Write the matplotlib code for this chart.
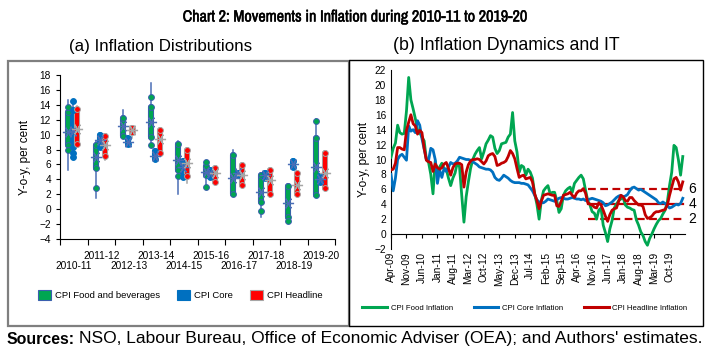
import matplotlib.pyplot as plt
import matplotlib.patheffects as pe
from matplotlib.patches import Rectangle, Patch
from matplotlib.lines import Line2D
from matplotlib import font_manager
import numpy as np

plt.rcParams['font.family'] = ['Liberation Sans', 'DejaVu Sans']
names = sorted({f.name for f in font_manager.fontManager.ttflist})
cond = [n for n in names if 'Narrow' in n or 'Condensed' in n]
NARROW = cond[:1] + ['Liberation Sans', 'DejaVu Sans']
PLAIN = ['Liberation Sans', 'DejaVu Sans']

# ---------------- panel (a): distributions by fiscal year ----------------
years = ['2010-11', '2011-12', '2012-13', '2013-14', '2014-15',
         '2015-16', '2016-17', '2017-18', '2018-19', '2019-20']

food_lo = [5.3, 1.5, 9.5, 8.6, 2.0, 2.9, 1.9, -1.1, -1.7, 1.7]
food_hi = [14.6, 9.1, 13.3, 16.9, 9.1, 6.5, 8.0, 4.8, 3.3, 12.1]
food_q1 = [8.6, 5.5, 9.8, 9.7, 5.3, 4.6, 2.1, 1.0, -1.0, 1.9]
food_q3 = [13.1, 8.6, 12.2, 13.7, 8.8, 5.8, 7.3, 4.6, 3.1, 9.5]
food_out = [[13.7, 7.9], [2.9], [], [15.0, 8.6], [4.4], [6.3, 2.95], [], [-0.2], [-1.6], [11.8]]
food_mean = [10.4, 7.0, 11.1, 11.7, 6.6, 5.0, 4.2, 2.3, 0.8, 5.7]

core_lo = [7.0, 8.3, 8.6, 6.6, 4.2, 4.2, 4.6, 4.1, 5.6, 3.5]
core_hi = [14.6, 10.1, 9.6, 7.9, 6.6, 5.3, 5.0, 5.0, 6.5, 4.6]
core_q1 = [8.3, 8.4, 8.7, 6.7, 4.3, 4.3, 4.6, 4.2, 5.7, 3.6]
core_q3 = [13.3, 10.0, 9.5, 7.8, 6.5, 5.2, 4.9, 4.9, 6.4, 4.5]
core_out = [[14.5, 7.6, 7.05], [], [], [], [], [], [], [], [], []]
core_mean = [10.5, 9.3, 9.0, 7.2, 5.6, 4.8, 4.8, 4.6, 6.0, 4.0]

head_lo = [8.5, 6.6, 9.5, 7.2, 3.5, 3.6, 3.2, 1.6, 1.9, 2.7]
head_hi = [13.8, 10.1, 11.0, 10.9, 8.2, 5.6, 6.1, 5.4, 5.0, 7.7]
head_q1 = [8.8, 7.1, 10.3, 7.6, 4.4, 3.7, 3.3, 2.1, 2.1, 2.8]
head_q3 = [13.5, 9.8, 10.85, 10.6, 7.9, 5.5, 5.9, 5.3, 4.8, 7.5]
head_out = [[], [], [], [], [], [], [], [], [], []]
head_mean = [10.8, 8.6, 10.6, 9.4, 6.2, 4.8, 4.6, 3.9, 3.3, 4.8]

# ---------------- panel (b): monthly y-o-y, Apr-09 to Apr-20 ----------------
tick_labels = ['Apr-09', 'Nov-09', 'Jun-10', 'Jan-11', 'Aug-11', 'Mar-12', 'Oct-12',
               'May-13', 'Dec-13', 'Jul-14', 'Feb-15', 'Sep-15', 'Apr-16', 'Nov-16',
               'Jun-17', 'Jan-18', 'Aug-18', 'Mar-19', 'Oct-19']

food_infl = [
    10.3, 11.5, 12.2, 14.6, 13.6, 13.4, 13.5, 16.5, 21.0, 18.0, 16.8, 15.5,
    14.0, 13.6, 13.0, 12.5, 10.0, 9.6, 8.0, 5.4, 9.8, 8.2, 9.0, 9.5,
    8.8, 8.7, 7.5, 6.5, 7.5, 8.2, 9.6, 9.0, 5.2, 1.6, 5.0, 7.0,
    8.8, 10.0, 10.7, 11.2, 11.6, 10.1, 11.0, 12.1, 12.6, 13.2, 13.0, 11.5,
    10.8, 11.2, 12.1, 12.2, 12.3, 13.0, 13.4, 16.3, 12.5, 11.0, 8.3, 9.2,
    9.0, 7.9, 8.7, 8.3, 7.5, 5.4, 4.0, 2.0, 4.5, 5.8, 6.2, 6.5,
    5.4, 5.6, 5.6, 4.5, 2.9, 3.4, 5.2, 5.8, 6.1, 6.3, 5.6, 6.8,
    7.2, 7.6, 7.9, 7.4, 5.9, 4.5, 3.9, 3.0, 2.8, 2.0, 3.2, 3.5,
    1.2, 0.2, -1.0, 0.7, 1.8, 3.5, 4.0, 4.5, 4.7, 4.9, 3.9, 3.6,
    3.5, 3.3, 3.2, 1.9, 1.2, 0.3, -0.2, -1.0, -1.5, -0.6, 0.0, 0.7,
    1.3, 1.8, 2.1, 2.7, 3.2, 4.3, 6.5, 8.3, 11.9, 11.6, 10.0, 7.9, 10.4]

core_infl = [
    8.0, 5.8, 7.5, 10.0, 10.5, 10.7, 10.3, 9.9, 14.5, 13.8, 14.0, 13.6,
    15.2, 14.6, 12.8, 11.4, 10.0, 9.9, 11.5, 11.3, 10.0, 6.8, 8.6, 7.6,
    8.8, 8.4, 9.0, 9.6, 9.4, 9.5, 9.8, 10.3, 10.2, 10.1, 10.0, 10.0,
    9.9, 9.7, 9.5, 9.3, 9.0, 8.9, 8.8, 8.7, 8.7, 8.6, 8.3, 7.6,
    7.3, 7.2, 7.5, 7.9, 7.7, 7.5, 7.2, 7.0, 6.9, 6.9, 6.9, 6.8,
    6.8, 6.7, 6.6, 6.2, 5.8, 5.2, 4.6, 4.3, 4.2, 4.2, 4.4, 4.7,
    4.6, 4.5, 4.4, 4.6, 4.8, 4.9, 4.8, 4.7, 4.7, 4.8, 4.9, 4.8,
    4.7, 4.7, 4.6, 4.7, 4.5, 4.6, 4.7, 4.8, 4.7, 4.6, 4.5, 4.4,
    4.2, 3.8, 3.9, 4.1, 4.3, 4.6, 4.9, 5.1, 5.2, 5.0, 5.1, 5.3,
    5.8, 6.2, 6.3, 6.1, 5.9, 6.0, 5.8, 5.6, 5.4, 5.2, 5.0, 4.8,
    4.6, 4.2, 4.1, 4.3, 4.1, 3.8, 3.5, 3.6, 3.8, 4.0, 3.9, 4.1, 4.8]

head_infl = [
    8.6, 8.7, 9.5, 11.6, 11.6, 11.4, 11.3, 13.9, 15.0, 16.0, 14.8, 14.5,
    13.4, 13.9, 13.6, 11.5, 9.9, 9.7, 9.6, 8.4, 9.4, 8.9, 8.7, 8.9,
    9.4, 9.6, 8.8, 7.9, 8.9, 9.4, 9.5, 9.5, 9.3, 6.3, 8.3, 9.3,
    9.8, 10.0, 10.0, 10.1, 10.0, 9.7, 9.4, 9.8, 10.5, 10.7, 10.8, 10.4,
    9.2, 9.3, 9.5, 9.6, 9.8, 10.4, 11.2, 10.8, 10.1, 8.8, 7.6, 7.8,
    7.9, 7.4, 7.5, 7.6, 7.0, 5.4, 4.5, 3.4, 4.4, 5.2, 5.3, 5.4,
    5.3, 5.2, 5.2, 3.8, 3.7, 4.4, 5.2, 5.3, 5.4, 5.6, 5.2, 4.9,
    5.5, 5.8, 5.8, 6.1, 5.5, 4.2, 4.0, 3.9, 3.6, 3.5, 4.2, 3.9,
    3.2, 2.4, 1.7, 2.6, 3.2, 3.4, 3.5, 4.4, 5.2, 5.0, 4.5, 4.4,
    4.9, 4.9, 4.5, 4.2, 3.9, 3.9, 3.7, 2.6, 2.1, 2.2, 2.4, 2.8,
    3.0, 3.0, 3.1, 3.2, 3.3, 3.9, 5.2, 6.3, 7.4, 7.6, 7.0, 5.9, 7.0]

target = 4
band = [2, 6]
target_from = 89  # Sep-16, month index from Apr-09

GREEN = '#00a651'
BLUE = '#0070c0'
RED = '#c00000'

fig = plt.figure(figsize=(7.06, 3.53), dpi=100)
W, H = 706, 353
r = fig.canvas.get_renderer()


def fit_text(x, y, s, width_px, size, family, **kw):
    # scale a heading so that it spans about the same width as in the reference
    t = fig.text(x, y, s, fontsize=size, family=family, **kw)
    w = t.get_window_extent(r).width
    t.set_fontsize(size * width_px / w)
    return t


# titles
fit_text(355 / W, 1 - 17 / H, 'Chart 2: Movements in Inflation during 2010-11 to 2019-20',
         344, 12, NARROW, ha='center', va='center', fontweight='bold',
         path_effects=[pe.withStroke(linewidth=0.35, foreground='black')])
fit_text(161 / W, 1 - 46 / H, '(a) Inflation Distributions', 182, 11, PLAIN,
         ha='center', va='center')
fit_text(506 / W, 1 - 46 / H, '(b) Inflation Dynamics and IT', 227, 11, PLAIN,
         ha='center', va='center')
src = fit_text(7 / W, 1 - 339 / H, 'Sources:', 68, 12, PLAIN, ha='left', va='center',
               fontweight='bold')
bb = src.get_window_extent(r)
fit_text(bb.x1 / fig.bbox.width + 4 / W, 1 - 339 / H,
         "NSO, Labour Bureau, Office of Economic Adviser (OEA); and Authors' estimates.",
         700 - bb.x1 - 4, 12, PLAIN, ha='left', va='center')

# panel frames
fig.add_artist(Rectangle((8 / W, 27 / H), 341 / W, 265 / H, transform=fig.transFigure,
                         fill=False, edgecolor='#7f7f7f', lw=1.6))
fig.add_artist(Rectangle((349 / W, 27 / H), 354 / W, 266 / H, transform=fig.transFigure,
                         fill=False, edgecolor='black', lw=1.0))

# ---------------- panel (a) ----------------
ax1 = fig.add_axes([60 / W, 114 / H, 275 / W, 164 / H])
series = [
    (food_lo, food_hi, food_q1, food_q3, food_out, food_mean, 0.30, GREEN, '#3a5fae', '#4a6db5'),
    (core_lo, core_hi, core_q1, core_q3, core_out, core_mean, 0.46, BLUE, BLUE, '#4a6db5'),
    (head_lo, head_hi, head_q1, head_q3, head_out, head_mean, 0.63, '#ff0000', '#a6a6a6', '#a6a6a6'),
]
for lo, hi, q1, q3, out, mean, off, fc, ec, wc in series:
    for i in range(len(years)):
        x = i + off
        ax1.plot([x, x], [lo[i], hi[i]], color=wc, lw=1.1, zorder=2)
        ax1.plot([x, x], [q1[i], q3[i]], color=fc, lw=3.0, solid_capstyle='round', zorder=3,
                 path_effects=[pe.Stroke(linewidth=4.4, foreground=ec), pe.Normal()])
        pts = [q1[i], q3[i]] + out[i]
        ax1.plot([x] * len(pts), pts, 'o', ms=4.2, mfc=fc, mec=ec, mew=0.7, zorder=4)
        ax1.plot(x, mean[i], marker=(6, 2, 90), ms=8, color=wc, mew=0.9, zorder=5)

ax1.set_xlim(0, 10)
ax1.set_ylim(-4, 18)
ax1.set_yticks(np.arange(-4, 19, 2))
ax1.set_xticks(np.arange(0, 11))
ax1.set_xticklabels([])
for k, y in enumerate(years):
    ax1.text(k + 0.5, -0.165 if k % 2 == 0 else -0.104, y, ha='center', va='center',
             fontsize=7.3, transform=ax1.get_xaxis_transform())
ax1.tick_params(axis='x', which='major', direction='out', length=4, width=0.8)
ax1.tick_params(axis='y', direction='out', length=3, width=0.8, labelsize=7.3)
ax1.spines['top'].set_visible(False)
ax1.spines['right'].set_visible(False)
ax1.set_ylabel('Y-o-y, per cent', fontsize=8.5, labelpad=6)

handles1 = [Patch(facecolor=GREEN, edgecolor='#3a5fae', lw=0.8),
            Patch(facecolor=BLUE, edgecolor=BLUE, lw=0.8),
            Patch(facecolor='#ff0000', edgecolor='#a6a6a6', lw=0.8)]
fig.legend(handles1, ['CPI Food and beverages', 'CPI Core', 'CPI Headline'],
           loc='center', bbox_to_anchor=(180 / W, 1 - 295 / H), ncol=3, frameon=False,
           fontsize=6.8, handlelength=1.4, handleheight=1.4, handletextpad=0.4,
           columnspacing=1.8)

# ---------------- panel (b) ----------------
ax2 = fig.add_axes([391 / W, 104 / H, 294 / W, 179 / H])
m = np.arange(len(food_infl))
ax2.plot(m, food_infl, color=GREEN, lw=2.0, zorder=3)
ax2.plot(m, core_infl, color=BLUE, lw=2.0, zorder=3)
ax2.plot(m, head_infl, color=RED, lw=2.0, zorder=4)

tm = np.arange(target_from, len(food_infl))
ax2.plot(tm, [target] * len(tm), color=RED, lw=1.6, zorder=2)
for b in band:
    ax2.plot(tm, [b] * len(tm), color=RED, lw=1.6, ls=(0, (3.5, 2)), zorder=2)
for v in band + [target]:
    ax2.text(tm[-1] + 2.5, v, str(v), ha='left', va='center', fontsize=10, clip_on=False)

ax2.set_xlim(0, len(food_infl))
ax2.set_ylim(-2, 22)
ax2.set_yticks(np.arange(-2, 23, 2))
ax2.tick_params(axis='y', direction='out', length=0, labelsize=7.3)
ax2.spines['top'].set_visible(False)
ax2.spines['right'].set_visible(False)
ax2.spines['bottom'].set_position(('data', 0))
tpos = np.arange(0, len(food_infl), 7)[:len(tick_labels)]
ax2.set_xticks(tpos)
ax2.set_xticklabels([])
ax2.tick_params(axis='x', direction='out', length=3, width=0.8)
for x, lab in zip(tpos, tick_labels):
    ax2.text(x, -2.4, lab, rotation=90, ha='center', va='top', fontsize=7.3, clip_on=False)
ax2.set_ylabel('Y-o-y, per cent', fontsize=8.5, labelpad=3)

fig.legend(handles=[Line2D([], [], color=GREEN, lw=2.2), Line2D([], [], color=BLUE, lw=2.2),
                    Line2D([], [], color=RED, lw=2.2)],
           labels=['CPI Food Inflation', 'CPI Core Inflation', 'CPI Headline Inflation'],
           loc='center', bbox_to_anchor=(525 / W, 1 - 308 / H), ncol=3, frameon=False,
           fontsize=5.6, handlelength=3.2, handletextpad=0.5, columnspacing=2.6)

fig.savefig('out.png', dpi=100)
